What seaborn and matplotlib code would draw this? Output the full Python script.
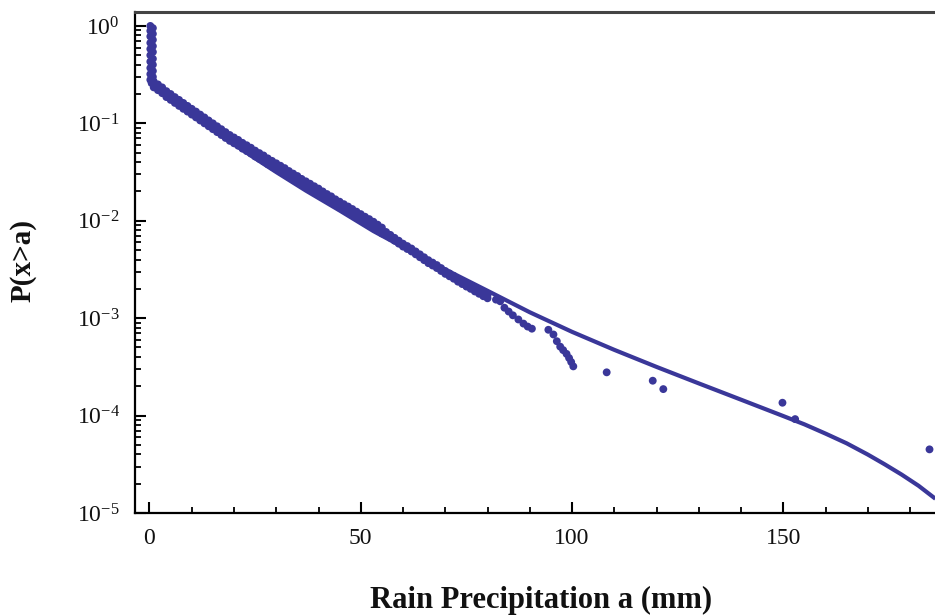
import matplotlib
matplotlib.use("Agg")
import matplotlib.pyplot as plt
import numpy as np
import pandas as pd
import seaborn as sns
from matplotlib.ticker import (LogLocator, MultipleLocator, FixedLocator,
                               LogFormatterSciNotation, NullFormatter)

# ---- data ----
# near-zero rain values (vertical run at a ~ 0)
rain_zero = [0.2, 0.8, 0.2, 0.8, 0.2, 0.8, 0.2, 0.8, 0.2, 0.8, 0.2,
             0.8, 0.2, 0.8, 0.2, 0.8, 0.2, 0.8, 0.2, 0.8, 0.5]
prob_zero = [1.0, 0.95, 0.89, 0.83, 0.78, 0.72, 0.67, 0.62, 0.58, 0.54, 0.50,
             0.46, 0.43, 0.40, 0.37, 0.345, 0.32, 0.30, 0.28, 0.27, 0.26]

# dense part of the empirical distribution (upper and lower edge of the cloud)
rain_band = list(range(1, 81))
prob_band_upper = [0.269, 0.251, 0.234, 0.214, 0.200, 0.186, 0.174, 0.162, 0.151, 0.141,
                   0.132, 0.123, 0.115, 0.107, 0.100, 0.0933, 0.0871, 0.0813, 0.0759, 0.0716,
                   0.0676, 0.0631, 0.0596, 0.0562, 0.0525, 0.0495, 0.0468, 0.0437, 0.0412, 0.0389,
                   0.0367, 0.0347, 0.0324, 0.0305, 0.0288, 0.0269, 0.0254, 0.0240, 0.0226, 0.0214,
                   0.0200, 0.0188, 0.0178, 0.0166, 0.0157, 0.0148, 0.0140, 0.0132, 0.0124, 0.0117,
                   0.0110, 0.0104, 0.00977, 0.00912, 0.00851, 0.00767, 0.00716, 0.00668, 0.00624, 0.00582,
                   0.00550, 0.00519, 0.00484, 0.00452, 0.00422, 0.00394, 0.00372, 0.00351, 0.00327, 0.00305,
                   0.00288, 0.00272, 0.00254, 0.00240, 0.00226, 0.00214, 0.00202, 0.00191, 0.00180, 0.00172]
prob_band_lower = [0.234, 0.219, 0.204, 0.186, 0.174, 0.162, 0.151, 0.141, 0.132, 0.123,
                   0.115, 0.107, 0.100, 0.0933, 0.0871, 0.0813, 0.0759, 0.0708, 0.0661, 0.0624,
                   0.0589, 0.0550, 0.0519, 0.0490, 0.0457, 0.0432, 0.0407, 0.0380, 0.0359, 0.0339,
                   0.0320, 0.0302, 0.0282, 0.0266, 0.0251, 0.0234, 0.0221, 0.0209, 0.0197, 0.0186,
                   0.0174, 0.0164, 0.0155, 0.0145, 0.0136, 0.0129, 0.0122, 0.0115, 0.0108, 0.0102,
                   0.00955, 0.00902, 0.00851, 0.00794, 0.00741, 0.00716, 0.00668, 0.00624, 0.00582, 0.00543,
                   0.00513, 0.00484, 0.00452, 0.00422, 0.00394, 0.00367, 0.00347, 0.00327, 0.00305, 0.00285,
                   0.00269, 0.00254, 0.00237, 0.00224, 0.00211, 0.00200, 0.00188, 0.00178, 0.00168, 0.00160]

# sparse tail of the empirical distribution
rain_tail = [82, 83, 84, 85, 86, 87.3, 88.5, 89.5, 90.5,
             94.4, 95.6, 96.4, 97.2, 97.9, 98.7, 99.3, 99.8, 100.3,
             108.2, 119.1, 121.6, 149.8, 152.8, 184.6]
prob_tail = [1.55e-3, 1.49e-3, 1.28e-3, 1.17e-3, 1.07e-3, 9.7e-4, 8.8e-4, 8.2e-4, 7.8e-4,
             7.6e-4, 6.8e-4, 5.8e-4, 5.1e-4, 4.7e-4, 4.3e-4, 3.9e-4, 3.55e-4, 3.2e-4,
             2.78e-4, 2.28e-4, 1.87e-4, 1.355e-4, 9.2e-5, 4.5e-5]

# fitted curve
rain_fit = [0, 5, 10, 15, 20, 25, 30, 37, 45, 53, 60, 70, 80, 90, 100, 110,
            120, 130, 140, 150, 155, 160, 165, 170, 174, 178, 182, 186]
prob_fit = [0.257, 0.174, 0.1216, 0.0861, 0.0610, 0.0437, 0.0316, 0.0204, 0.01274, 0.00783,
            0.00537, 0.00316, 0.00191, 0.00115, 7.24e-4, 4.73e-4, 3.16e-4, 2.14e-4, 1.456e-4,
            9.89e-5, 8.13e-5, 6.53e-5, 5.19e-5, 3.98e-5, 3.16e-5, 2.48e-5, 1.905e-5, 1.40e-5]

x_ticks = [0, 50, 100, 150]

# ---- styling ----
sns.set_theme(style="ticks")
plt.rcParams["font.family"] = ["Liberation Serif", "DejaVu Serif"]
plt.rcParams["mathtext.fontset"] = "custom"
plt.rcParams["mathtext.rm"] = "Liberation Serif"
plt.rcParams["mathtext.it"] = "Liberation Serif:italic"
plt.rcParams["mathtext.bf"] = "Liberation Serif:bold"

COLOR = "#3A3799"

pts = pd.DataFrame({
    "rain": rain_zero + rain_band + rain_band + rain_tail,
    "prob": prob_zero + prob_band_upper + prob_band_lower + prob_tail,
})
fit = pd.DataFrame({"rain": rain_fit, "prob": prob_fit})

W, H = 935, 616
fig = plt.figure(figsize=(W / 100, H / 100), dpi=100)
ax = fig.add_axes([135 / W, 1 - 513 / H, 1 - 135 / W, (513 - 12) / H])

sns.lineplot(data=fit, x="rain", y="prob", ax=ax, color=COLOR, linewidth=3.0,
             solid_capstyle="butt", solid_joinstyle="round", zorder=2)
sns.scatterplot(data=pts, x="rain", y="prob", ax=ax, color=COLOR, s=32,
                linewidth=0, edgecolor="none", zorder=3)

ax.set_yscale("log")
ax.set_xlim(-3.43, 185.9)
ax.set_ylim(1e-5, 1.39)

ax.xaxis.set_major_locator(FixedLocator(x_ticks))
ax.xaxis.set_minor_locator(MultipleLocator(10))
ax.yaxis.set_major_locator(LogLocator(base=10, numticks=12))
ax.yaxis.set_minor_locator(LogLocator(base=10, subs=np.arange(2, 10), numticks=12))
ax.yaxis.set_major_formatter(LogFormatterSciNotation())
ax.yaxis.set_minor_formatter(NullFormatter())

ax.tick_params(which="both", direction="in", top=False, right=False, color="black",
               labelcolor="#111111")
ax.tick_params(which="major", length=8, width=1.5, labelsize=17, pad=11)
ax.tick_params(which="minor", length=4.5, width=1.3)

for side in ("left", "bottom"):
    ax.spines[side].set_linewidth(1.6)
    ax.spines[side].set_color("black")
ax.spines["top"].set_linewidth(2.2)
ax.spines["top"].set_color("#444444")
ax.spines["right"].set_visible(False)

ax.set_xlabel("Rain Precipitation a (mm)", fontsize=22, fontweight="bold", color="#111111")
ax.set_ylabel("P(x>a)", fontsize=21, fontweight="bold", color="#111111")
ax.xaxis.set_label_coords((541 - 135) / 800, -0.145)
ax.yaxis.set_label_coords(-0.123, 0.503)

fig.savefig("out.png", dpi=100, facecolor="white")
